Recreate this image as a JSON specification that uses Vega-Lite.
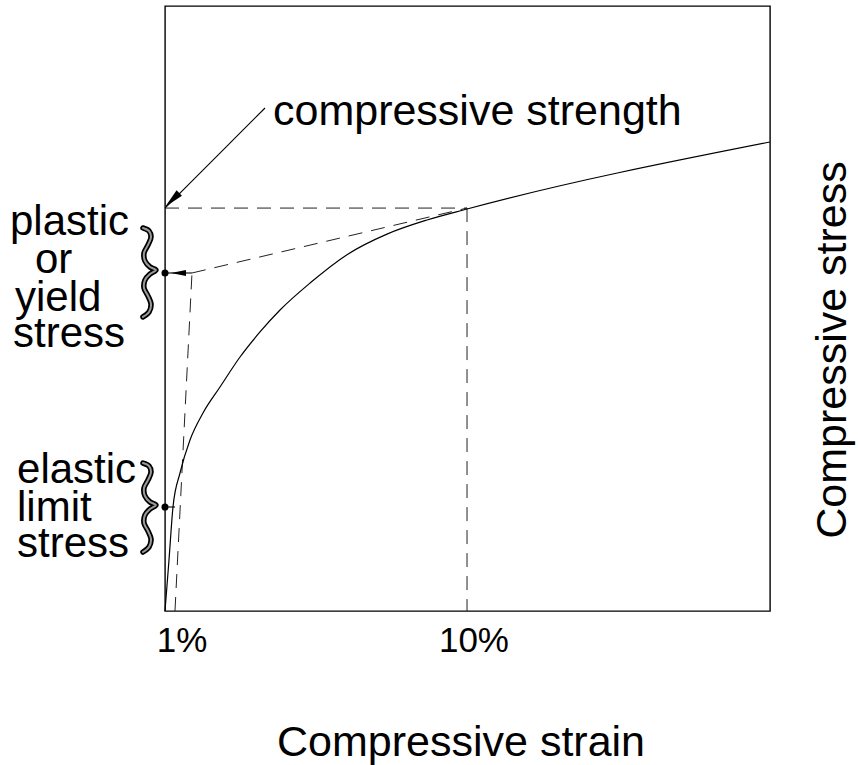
{
  "$schema": "https://vega.github.io/schema/vega-lite/v6.json",
  "width": 605,
  "height": 605,
  "autosize": {"type": "none"},
  "padding": {"left": 165, "top": 6, "right": 88, "bottom": 154},
  "background": "white",
  "config": {
    "view": {"stroke": "black", "strokeWidth": 1.4},
    "text": {"font": "Liberation Sans", "color": "black"}
  },
  "datasets": {
    "curve": [
      {"x": 0, "y": 0},
      {"x": 0.66, "y": 8.43},
      {"x": 1.32, "y": 17.19},
      {"x": 2.48, "y": 22.81},
      {"x": 4.13, "y": 28.26},
      {"x": 6.28, "y": 32.73},
      {"x": 9.09, "y": 37.02},
      {"x": 12.4, "y": 41.98},
      {"x": 15.7, "y": 46.12},
      {"x": 19.01, "y": 49.75},
      {"x": 23.97, "y": 54.21},
      {"x": 30.08, "y": 58.9},
      {"x": 36.69, "y": 62.3},
      {"x": 43.31, "y": 64.63},
      {"x": 49.92, "y": 66.45},
      {"x": 100, "y": 77.52}
    ],
    "dashed": [
      {"s": "h", "x": 0, "y": 66.6},
      {"s": "h", "x": 49.92, "y": 66.6},
      {"s": "v", "x": 49.92, "y": 66.6},
      {"s": "v", "x": 49.92, "y": 0},
      {"s": "e", "x": 1.65, "y": 0},
      {"s": "e", "x": 4.46, "y": 55.87},
      {"s": "p", "x": 4.46, "y": 55.87},
      {"s": "p", "x": 49.92, "y": 66.6}
    ],
    "solid": [
      {"s": "pa", "x": 0, "y": 55.87},
      {"s": "pa", "x": 4.46, "y": 55.87},
      {"s": "el", "x": 0, "y": 17.19},
      {"s": "el", "x": 1.65, "y": 17.19},
      {"s": "cs", "x": 0, "y": 66.6},
      {"s": "cs", "x": 16.53, "y": 83.14}
    ],
    "dots": [
      {"x": 0, "y": 55.87},
      {"x": 0, "y": 17.19}
    ],
    "headPlastic": [{"x": 2.23, "y": 55.87}],
    "headStrength": [{"x": 1.18, "y": 67.93}],
    "braces": [
      {"b": "u", "o": 1, "x": -3.64, "y": 63.31},
      {"b": "u", "o": 2, "x": -2.64, "y": 62.81},
      {"b": "u", "o": 3, "x": -2.31, "y": 61.82},
      {"b": "u", "o": 4, "x": -2.81, "y": 60.5},
      {"b": "u", "o": 5, "x": -3.47, "y": 59.17},
      {"b": "u", "o": 6, "x": -3.31, "y": 57.85},
      {"b": "u", "o": 7, "x": -2.48, "y": 56.86},
      {"b": "u", "o": 8, "x": -1.49, "y": 56.36},
      {"b": "u", "o": 9, "x": -2.48, "y": 55.7},
      {"b": "u", "o": 10, "x": -3.31, "y": 54.71},
      {"b": "u", "o": 11, "x": -3.47, "y": 53.39},
      {"b": "u", "o": 12, "x": -2.81, "y": 52.07},
      {"b": "u", "o": 13, "x": -2.31, "y": 50.74},
      {"b": "u", "o": 14, "x": -2.64, "y": 49.42},
      {"b": "u", "o": 15, "x": -3.64, "y": 48.6},
      {"b": "l", "o": 1, "x": -3.64, "y": 24.46},
      {"b": "l", "o": 2, "x": -2.64, "y": 23.97},
      {"b": "l", "o": 3, "x": -2.31, "y": 22.98},
      {"b": "l", "o": 4, "x": -2.81, "y": 21.65},
      {"b": "l", "o": 5, "x": -3.47, "y": 20.33},
      {"b": "l", "o": 6, "x": -3.31, "y": 19.01},
      {"b": "l", "o": 7, "x": -2.48, "y": 18.02},
      {"b": "l", "o": 8, "x": -1.49, "y": 17.52},
      {"b": "l", "o": 9, "x": -2.48, "y": 16.86},
      {"b": "l", "o": 10, "x": -3.31, "y": 15.87},
      {"b": "l", "o": 11, "x": -3.47, "y": 14.55},
      {"b": "l", "o": 12, "x": -2.81, "y": 13.22},
      {"b": "l", "o": 13, "x": -2.31, "y": 11.9},
      {"b": "l", "o": 14, "x": -2.64, "y": 10.58},
      {"b": "l", "o": 15, "x": -3.64, "y": 9.75}
    ],
    "strengthLabel": [
      {"t": "compressive strength", "x": 17.85, "y": 80.33}
    ],
    "leftLabels": [
      {"t": "plastic", "x": -25.62, "y": 62.15},
      {"t": "or", "x": -21.49, "y": 55.87},
      {"t": "yield", "x": -24.79, "y": 49.59},
      {"t": "stress", "x": -25.12, "y": 43.64},
      {"t": "elastic", "x": -24.46, "y": 21.16},
      {"t": "limit", "x": -24.46, "y": 14.88},
      {"t": "stress", "x": -24.46, "y": 8.93}
    ],
    "ticks": [
      {"t": "1%", "x": 2.81, "y": -6.78},
      {"t": "10%", "x": 51.07, "y": -6.78}
    ],
    "xtitle": [{"t": "Compressive strain", "x": 48.93, "y": -23.97}],
    "ytitle": [{"t": "Compressive stress", "x": 112.56, "y": 43.14}]
  },
  "encoding": {
    "x": {"field": "x", "type": "quantitative", "scale": {"domain": [0, 100], "nice": false, "zero": false}, "axis": null},
    "y": {"field": "y", "type": "quantitative", "scale": {"domain": [0, 100], "nice": false, "zero": false}, "axis": null}
  },
  "layer": [
    {
      "data": {"name": "dashed"},
      "mark": {"type": "line", "stroke": "#222", "strokeWidth": 1, "strokeDash": [14, 9]},
      "encoding": {"detail": {"field": "s"}}
    },
    {
      "data": {"name": "curve"},
      "mark": {"type": "line", "stroke": "black", "strokeWidth": 1.2, "interpolate": "monotone"}
    },
    {
      "data": {"name": "solid"},
      "mark": {"type": "line", "stroke": "black", "strokeWidth": 1.1},
      "encoding": {"detail": {"field": "s"}}
    },
    {
      "data": {"name": "dots"},
      "mark": {"type": "point", "shape": "circle", "filled": true, "color": "black", "size": 50, "opacity": 1}
    },
    {
      "data": {"name": "headPlastic"},
      "mark": {"type": "point", "shape": "M-1,0L1,-0.4L1,0.4Z", "filled": true, "color": "black", "size": 225, "opacity": 1}
    },
    {
      "data": {"name": "headStrength"},
      "mark": {"type": "point", "shape": "M-1,0L1,-0.38L1,0.38Z", "filled": true, "color": "black", "size": 400, "angle": 315.4, "opacity": 1}
    },
    {
      "data": {"name": "braces"},
      "mark": {"type": "line", "stroke": "black", "strokeWidth": 5.5, "interpolate": "catmull-rom", "strokeCap": "round"},
      "encoding": {"detail": {"field": "b"}, "order": {"field": "o"}}
    },
    {
      "data": {"name": "braces"},
      "mark": {"type": "line", "stroke": "#9a9a9a", "strokeWidth": 2, "interpolate": "catmull-rom", "strokeCap": "round"},
      "encoding": {"detail": {"field": "b"}, "order": {"field": "o"}}
    },
    {
      "data": {"name": "strengthLabel"},
      "mark": {"type": "text", "fontSize": 43, "align": "left", "baseline": "alphabetic"},
      "encoding": {"text": {"field": "t"}}
    },
    {
      "data": {"name": "leftLabels"},
      "mark": {"type": "text", "fontSize": 42, "align": "left", "baseline": "alphabetic"},
      "encoding": {"text": {"field": "t"}}
    },
    {
      "data": {"name": "ticks"},
      "mark": {"type": "text", "fontSize": 35, "align": "center", "baseline": "alphabetic"},
      "encoding": {"text": {"field": "t"}}
    },
    {
      "data": {"name": "xtitle"},
      "mark": {"type": "text", "fontSize": 43, "align": "center", "baseline": "alphabetic"},
      "encoding": {"text": {"field": "t"}}
    },
    {
      "data": {"name": "ytitle"},
      "mark": {"type": "text", "fontSize": 43, "align": "center", "baseline": "alphabetic", "angle": 270},
      "encoding": {"text": {"field": "t"}}
    }
  ]
}
